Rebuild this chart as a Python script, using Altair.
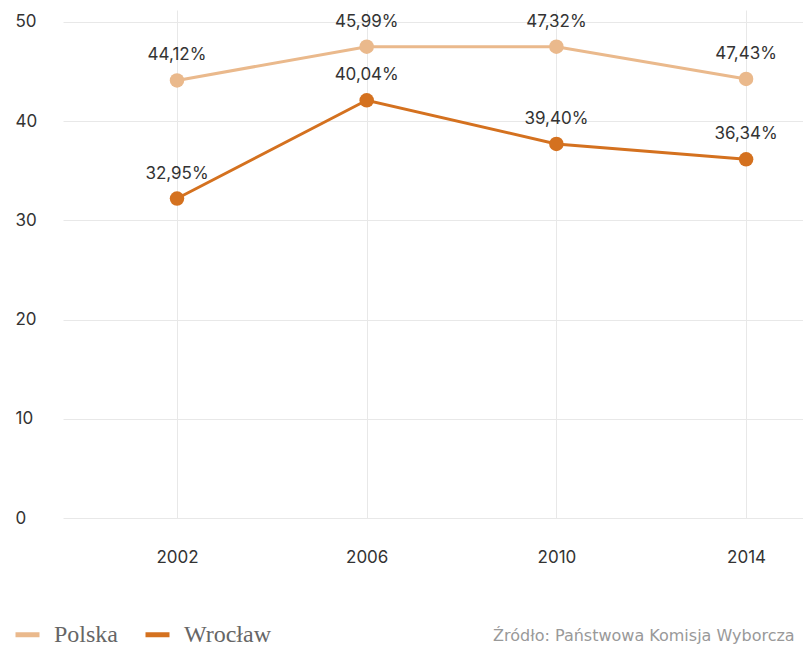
import altair as alt
import pandas as pd

years = [2002, 2006, 2010, 2014]
polska = [44.1, 47.5, 47.5, 44.25]
wroclaw = [32.2, 42.1, 37.7, 36.15]
polska_labels = ["44,12%", "45,99%", "47,32%", "47,43%"]
wroclaw_labels = ["32,95%", "40,04%", "39,40%", "36,34%"]
series = ["Polska", "Wrocław"]
colors = ["#EAB98C", "#D4711F"]
y_ticks = [0, 10, 20, 30, 40, 50]
source = ["Źródło: Państwowa Komisja Wyborcza"]

rows = []
for i, y in enumerate(years):
    rows.append({"rok": y, "seria": "Polska", "v": polska[i], "lab": polska_labels[i]})
    rows.append({"rok": y, "seria": "Wrocław", "v": wroclaw[i], "lab": wroclaw_labels[i]})
df = pd.DataFrame(rows)

FONT = "Inter"

x = alt.X("rok:Q", scale=alt.Scale(domain=[1999.596, 2015.2], nice=False, zero=False),
          axis=alt.Axis(values=years, format="d", title=None, domain=False, ticks=False,
                        labelPadding=31, labelFont=FONT, labelFontSize=17, labelColor="#333",
                        gridColor="#E8E8E8", gridWidth=1))
y = alt.Y("v:Q", scale=alt.Scale(domain=[0, 51.2], nice=False),
          axis=alt.Axis(values=y_ticks, title=None, domain=False, ticks=False,
                        labelAlign="left", labelPadding=48, labelFont=FONT, labelFontSize=17,
                        labelColor="#333", gridColor="#E8E8E8", gridWidth=1))
color_scale = alt.Scale(domain=series, range=colors)

base = alt.Chart(df)
lines = base.mark_line(strokeWidth=3).encode(
    x=x, y=y,
    color=alt.Color("seria:N", scale=color_scale, sort=series,
                    legend=alt.Legend(title=None, orient="none", legendX=-50, legendY=610,
                                      direction="horizontal", symbolType="stroke",
                                      symbolSize=576, symbolStrokeWidth=5,
                                      labelFont="Liberation Serif", labelFontSize=24,
                                      labelColor="#666", labelOffset=12, columnPadding=16)),
    detail="seria:N",
)
points = base.mark_circle(size=210, opacity=1).encode(
    x=x, y=y, color=alt.Color("seria:N", scale=color_scale, legend=None)
)
labels = base.mark_text(dy=-25, font=FONT, fontSize=17, color="#333", baseline="middle").encode(
    x=x, y=y, text="lab:N"
)
src = alt.Chart(pd.DataFrame({"t": source})).mark_text(
    align="left", baseline="middle", font="DejaVu Sans", fontSize=16, color="#999"
).encode(x=alt.value(430), y=alt.value(626), text="t:N")

chart = alt.layer(lines, points, labels, src).properties(
    width=740, height=508,
    autosize=alt.AutoSizeParams(type="none"),
    padding={"left": 55, "top": 2, "right": 0, "bottom": 130},
).configure(background="white").configure_view(stroke=None)

chart.save("out.html", embed_options={"renderer": "svg", "actions": False})
